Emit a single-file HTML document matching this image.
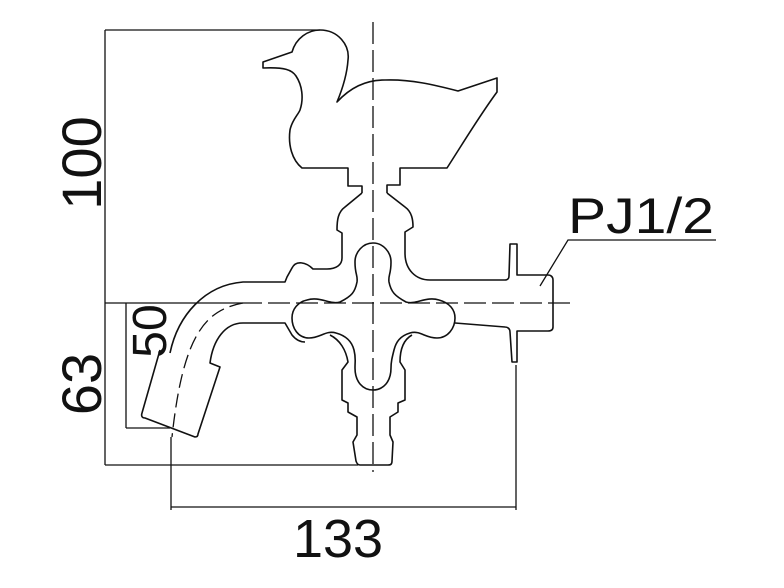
<!DOCTYPE html>
<html><head><style>html,body{margin:0;padding:0;background:#fff}svg{display:block}</style></head>
<body>
<svg width="784" height="588" viewBox="0 0 784 588" xmlns="http://www.w3.org/2000/svg" font-family="Liberation Sans, sans-serif">
<g fill="none" stroke="#111" stroke-width="1.6" stroke-linejoin="round">
<path d="M362,193 L362,186 L348,186 L348,168 L302,168 C292,160 288,145 290,130 C292,120 298,115 300,110 C304,98 302,85 296,76 C292,70 285,67 263,68 L263,62 L292,52 C296,38 308,30 320,30 C338,30 350,45 348,60 C347,75 342,90 337,102 C350,88 365,80 385,80 C410,79 435,85 458,91 L497,78 L497,92 C480,115 465,140 447,168 L400,168 L400,185 L387,185 L387,193"/>
<path d="M362,193 L345,207 C338,212 337,220 337,230 L342,233 L342,258 C342,265 336,269 327,269 L313,269 C306,262 296,260 292,268 L287,277 L285,282 L243,282 C205,285 178,315 170,353"/>
<path d="M387,193 L405,207 C412,212 413,220 413,227 L405,232 L405,253 C405,270 416,280 430,280 L505,280 C508,280 509,278 509,276 L510,244 L517,244 L517,275 L548,275 C551,275 553,277 553,280 L553,327 C553,330 551,331 548,331 L517,331 L517,362 L512,362 L510,332 C510,329 508,327 505,327 L455,323"/>
<path d="M160,350 L142,413 C141,416 142,418 145,418 L195,437 C197,437 198,436 198,434 L220,367 L210,363 C213,340 225,323 243,323 L285,323 L292,335 C296,340 300,342 305,342"/>
<path d="M307,300 C320,296 330,305 340,302 C352,296 355,292 357,282 C358,275 355,275 355,262 C355,252 363,243 373,243 C383,243 391,252 391,262 C391,275 388,275 389,282 C391,292 395,296 406,302 C416,305 426,296 439,300 C450,303 455,310 455,318 C455,328 448,338 437,338 C425,338 420,330 410,333 C400,336 396,342 394,350 C392,358 391,362 391,368 C391,382 383,390 373,390 C363,390 355,382 355,368 C355,360 356,358 354,350 C352,342 347,336 336,333 C326,330 320,338 309,338 C298,338 292,328 292,318 C292,309 298,302 307,300 Z"/>
<path d="M330,335 C340,340 346,350 348,362 L342,370 L342,400 L348,403 L348,412 L357,417 L357,435 L353,442 L356,461 C357,464 358,465 360,465 L388,465 C391,465 392,464 392,461 L393,442 L390,435 L390,417 L398,412 L398,403 L405,400 L405,370 L400,362 C400,350 403,340 412,335"/>
</g>
<g fill="none" stroke="#111" stroke-width="1.3">
<line x1="373" y1="22" x2="373" y2="472" stroke-dasharray="22,6"/>
<line x1="240" y1="303" x2="570" y2="303" stroke-dasharray="22,6"/>
<path d="M243,303 C205,310 183,335 172,437" stroke-dasharray="14,6"/>
<line x1="105" y1="30" x2="320" y2="30"/>
<line x1="105" y1="30" x2="105" y2="465"/>
<line x1="105" y1="303" x2="240" y2="303"/>
<line x1="105" y1="465" x2="358" y2="465"/>
<line x1="126" y1="303" x2="126" y2="428"/>
<line x1="126" y1="428" x2="170" y2="428"/>
<line x1="171" y1="437" x2="171" y2="510"/>
<line x1="516" y1="365" x2="516" y2="510"/>
<line x1="171" y1="507" x2="516" y2="507"/>
<polyline points="540,286 568,240 716,240"/>
</g>
<g fill="#111" font-size="56">
<text transform="translate(101,163) rotate(-90)" text-anchor="middle">100</text>
<text transform="translate(101,384) rotate(-90)" text-anchor="middle">63</text>
<text transform="translate(166,331) rotate(-90)" text-anchor="middle" font-size="48">50</text>
<text x="338" y="557" text-anchor="middle" font-size="54">133</text>
<text x="568" y="233" font-size="50" textLength="146" lengthAdjust="spacingAndGlyphs">PJ1/2</text>
</g>
</svg>
</body></html>
